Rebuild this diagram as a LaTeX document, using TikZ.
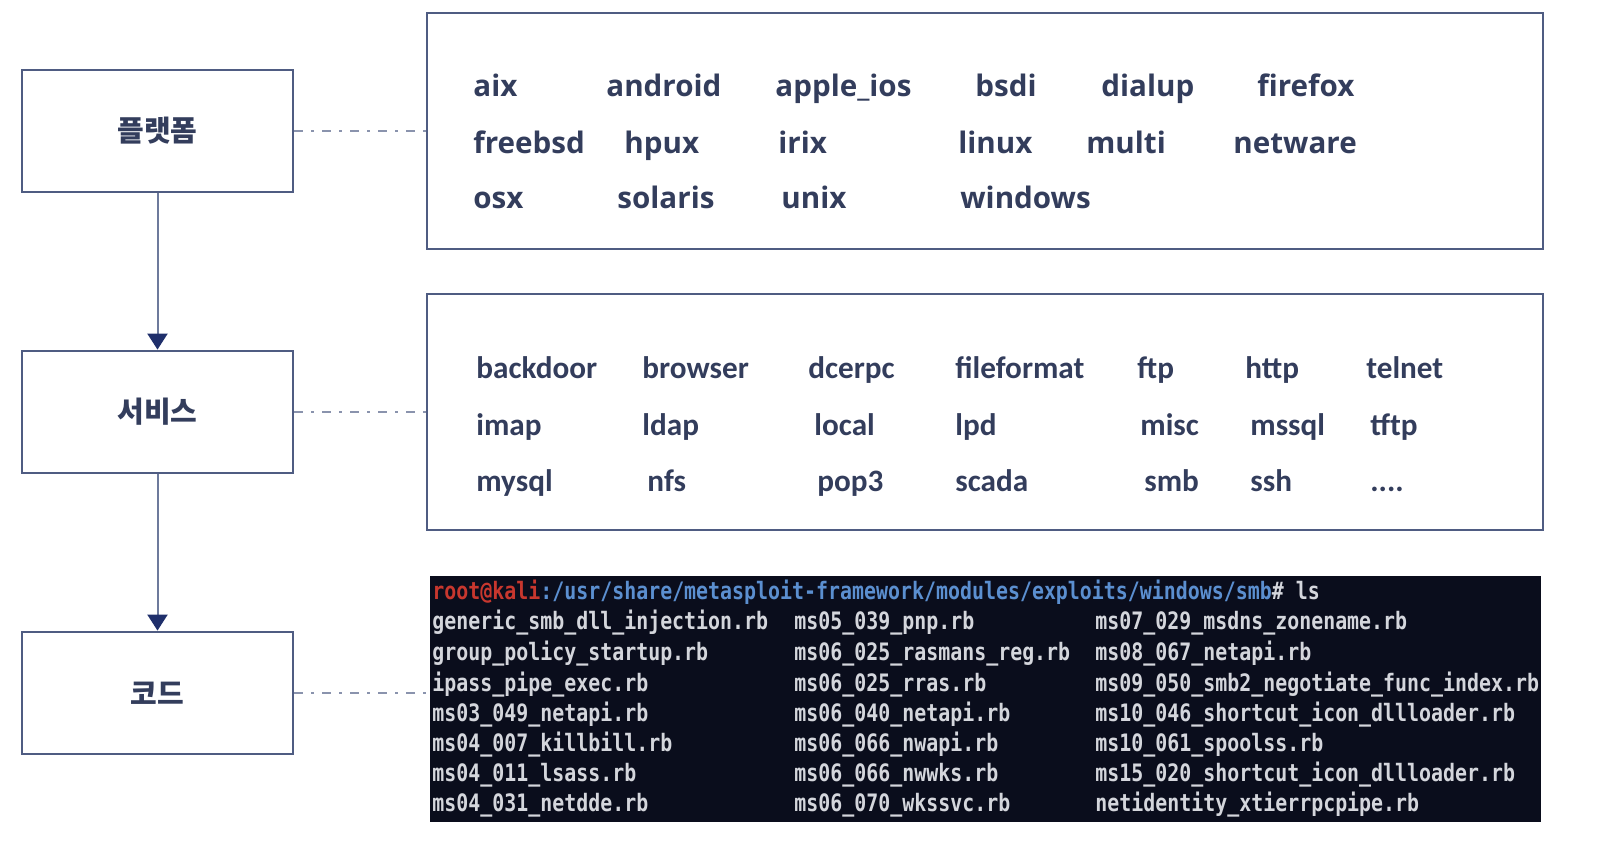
\documentclass[tikz,border=0pt]{standalone}
\usepackage{fontspec}
\newfontfamily\korfont{Noto Sans CJK KR}
\newfontfamily\platfont{Open Sans}
\newfontfamily\svcfont{Carlito}
\newfontfamily\termfont{DejaVu Sans Mono}[FakeStretch=0.83]
\usepackage{tikz}
\usetikzlibrary{arrows.meta}

\definecolor{boxline}{HTML}{4F5C82}
\definecolor{wordcol}{HTML}{333D5C}
\definecolor{dashcol}{HTML}{8A93AD}
\definecolor{arrowline}{HTML}{6D7A9C}
\definecolor{arrowtip}{HTML}{1F2F6B}
\definecolor{termbg}{HTML}{0A0D1C}
\definecolor{termfg}{HTML}{D4D6DC}
\definecolor{promptred}{HTML}{C8372E}
\definecolor{promptblue}{HTML}{5B8FD0}

\tikzset{
  layer/.style={draw=boxline, line width=1.4pt, minimum width=135.5pt, minimum height=61pt,
    text=wordcol, font=\korfont\bfseries\fontsize{14.5}{17}\selectfont},
  group/.style={draw=boxline, line width=1.2pt, minimum width=558pt, minimum height=118pt},
  plat/.style={anchor=mid west, inner sep=0pt, yshift=-3pt, text=wordcol, font=\platfont\bfseries\fontsize{14.8}{18}\selectfont},
  svc/.style={anchor=mid west, inner sep=0pt, yshift=-3pt, text=wordcol, font=\svcfont\bfseries\fontsize{15.6}{18}\selectfont},
  tline/.style={anchor=mid west, inner sep=0pt, yshift=-2pt, text=termfg, font=\termfont\bfseries\fontsize{12}{14}\selectfont},
  link/.style={draw=dashcol, line width=1pt, dash pattern=on 4.5pt off 4pt on 1.5pt off 4pt},
  flow/.style={draw=arrowline, line width=1pt, -{Triangle[width=10pt,length=8pt,color=arrowtip]}}
}

\begin{document}
\begin{tikzpicture}[x=0.5pt, y=-0.5pt]
\useasboundingbox (0,0) rectangle (1606,858);

% left column
\node[layer] (platform) at (157.5,131) {플랫폼};
\node[layer] (service) at (157.5,412) {서비스};
\node[layer] (code) at (157.5,693) {코드};

\path [flow] (platform) edge (service);
\path [flow] (service) edge (code);

% platform list
\node[group] (platbox) at (985,131) {};
\node[plat] (aix) at (473,86) {aix};
\node[plat] (android) at (606,86) {android};
\node[plat] (appleios) at (775,86) {apple\_ios};
\node[plat] (bsdi) at (975,86) {bsdi};
\node[plat] (dialup) at (1101,86) {dialup};
\node[plat] (firefox) at (1257,86) {firefox};
\node[plat] (freebsd) at (473,143) {freebsd};
\node[plat] (hpux) at (624,143) {hpux};
\node[plat] (irix) at (778,143) {irix};
\node[plat] (linux) at (958,143) {linux};
\node[plat] (multi) at (1086,143) {multi};
\node[plat] (netware) at (1233,143) {netware};
\node[plat] (osx) at (473,198) {osx};
\node[plat] (solaris) at (617,198) {solaris};
\node[plat] (unix) at (781,198) {unix};
\node[plat] (windows) at (960,198) {windows};

% service list
\node[group] (svcbox) at (985,412) {};
\node[svc] (backdoor) at (476,368) {backdoor};
\node[svc] (browser) at (642,368) {browser};
\node[svc] (dcerpc) at (808,368) {dcerpc};
\node[svc] (fileformat) at (955,368) {fileformat};
\node[svc] (ftp) at (1137,368) {ftp};
\node[svc] (http) at (1245,368) {http};
\node[svc] (telnet) at (1366,368) {telnet};
\node[svc] (imap) at (476,425) {imap};
\node[svc] (ldap) at (642,425) {ldap};
\node[svc] (local) at (814,425) {local};
\node[svc] (lpd) at (955,425) {lpd};
\node[svc] (misc) at (1140,425) {misc};
\node[svc] (mssql) at (1250,425) {mssql};
\node[svc] (tftp) at (1370,425) {tftp};
\node[svc] (mysql) at (476,481) {mysql};
\node[svc] (nfs) at (647,481) {nfs};
\node[svc] (pop3) at (817,481) {pop3};
\node[svc] (scada) at (955,481) {scada};
\node[svc] (smb) at (1144,481) {smb};
\node[svc] (ssh) at (1250,481) {ssh};
\node[svc] (more) at (1370,481) {....};

% terminal listing
\node[fill=termbg, minimum width=555.5pt, minimum height=123pt] (term) at (985.5,699) {};
\begin{scope}
\clip (430,576) rectangle (1541,822);
\node[tline] (prompt) at (432,591) {{\color{promptred}root@kali}{\color{promptblue}:/usr/share/metasploit-framework/modules/exploits/windows/smb}\# ls};
\node[tline] (t11) at (432,621) {generic\_smb\_dll\_injection.rb};
\node[tline] (t12) at (432,652) {group\_policy\_startup.rb};
\node[tline] (t13) at (432,683) {ipass\_pipe\_exec.rb};
\node[tline] (t14) at (432,713) {ms03\_049\_netapi.rb};
\node[tline] (t15) at (432,743) {ms04\_007\_killbill.rb};
\node[tline] (t16) at (432,773) {ms04\_011\_lsass.rb};
\node[tline] (t17) at (432,803) {ms04\_031\_netdde.rb};
\node[tline] (t21) at (794,621) {ms05\_039\_pnp.rb};
\node[tline] (t22) at (794,652) {ms06\_025\_rasmans\_reg.rb};
\node[tline] (t23) at (794,683) {ms06\_025\_rras.rb};
\node[tline] (t24) at (794,713) {ms06\_040\_netapi.rb};
\node[tline] (t25) at (794,743) {ms06\_066\_nwapi.rb};
\node[tline] (t26) at (794,773) {ms06\_066\_nwwks.rb};
\node[tline] (t27) at (794,803) {ms06\_070\_wkssvc.rb};
\node[tline] (t31) at (1095,621) {ms07\_029\_msdns\_zonename.rb};
\node[tline] (t32) at (1095,652) {ms08\_067\_netapi.rb};
\node[tline] (t33) at (1095,683) {ms09\_050\_smb2\_negotiate\_func\_index.rb};
\node[tline] (t34) at (1095,713) {ms10\_046\_shortcut\_icon\_dllloader.rb};
\node[tline] (t35) at (1095,743) {ms10\_061\_spoolss.rb};
\node[tline] (t36) at (1095,773) {ms15\_020\_shortcut\_icon\_dllloader.rb};
\node[tline] (t37) at (1095,803) {netidentity\_xtierrpcpipe.rb};
\end{scope}

% dash-dot links
\path [link] (platform) edge (platbox);
\path [link] (service) edge (svcbox);
\draw [link] (code.east) -- (code.east -| term.west);
\end{tikzpicture}
\end{document}
